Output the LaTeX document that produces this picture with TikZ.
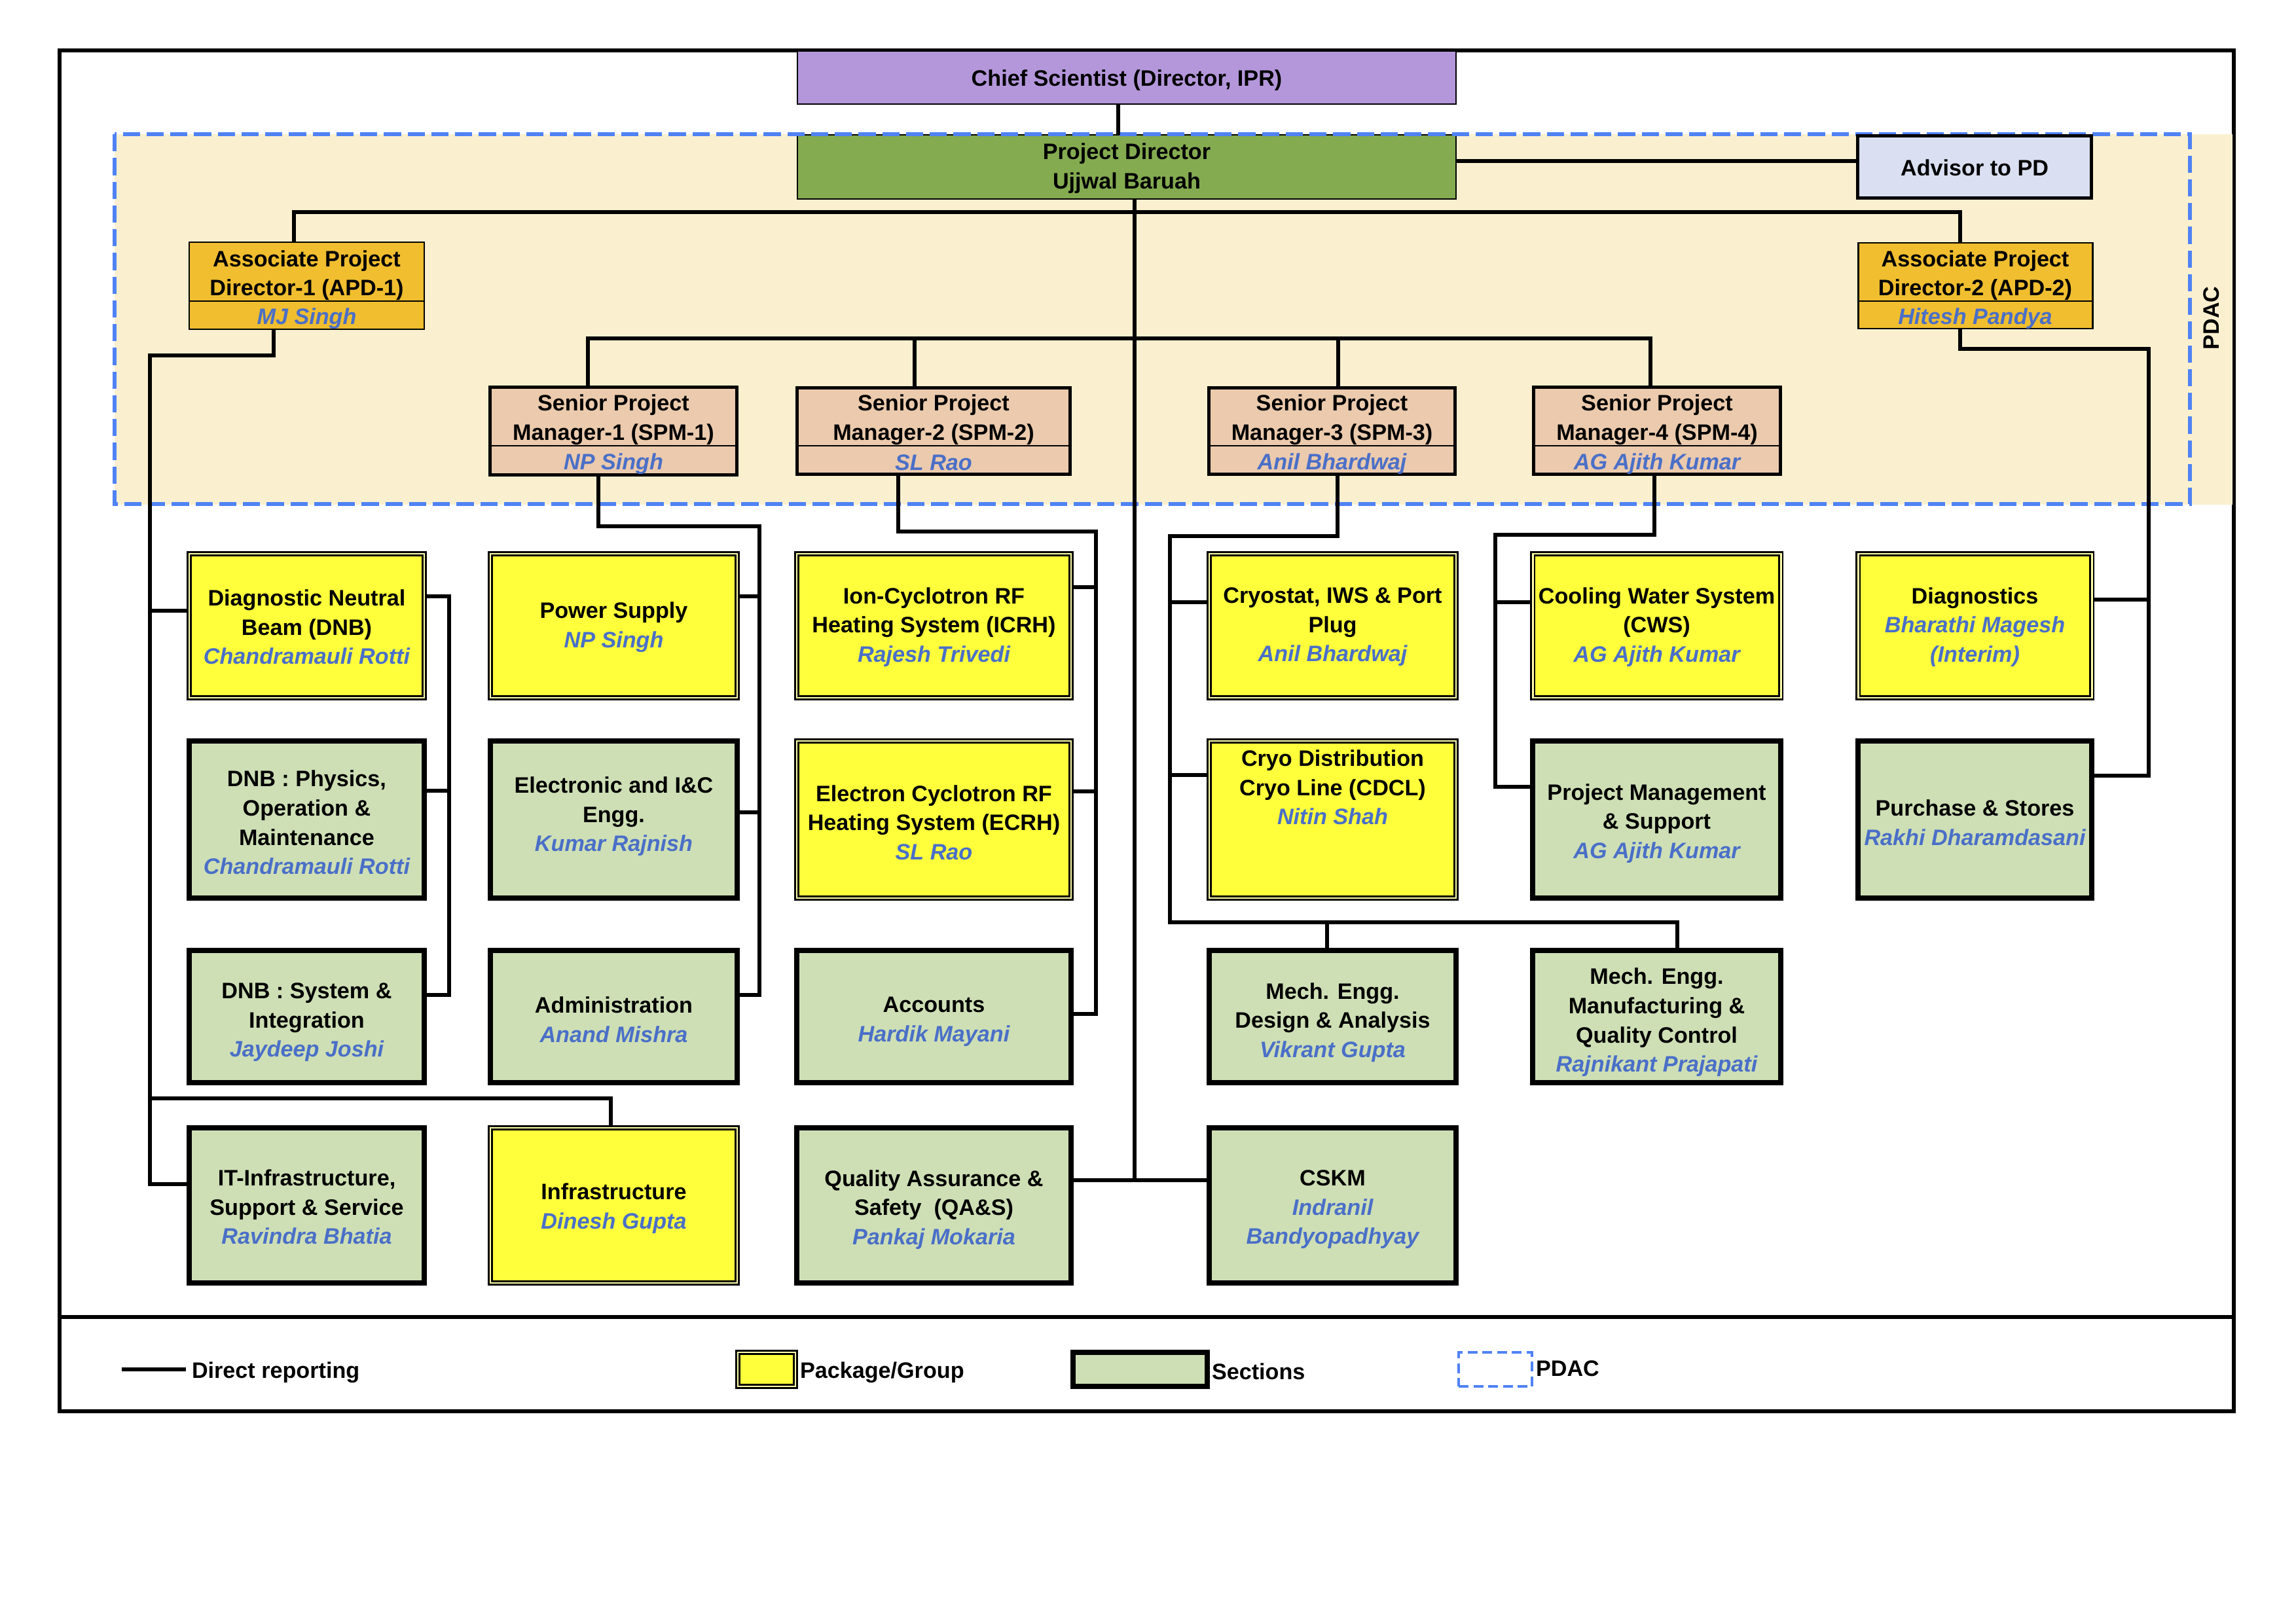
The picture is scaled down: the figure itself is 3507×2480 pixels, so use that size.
\documentclass[tikz,border=0pt]{standalone}
\usepackage{fontspec}
\setmainfont{Liberation Sans}
\definecolor{chiefc}{HTML}{B497DB}
\definecolor{pdc}{HTML}{84AB50}
\definecolor{advc}{HTML}{DAE0F1}
\definecolor{apdc}{HTML}{F0BE2F}
\definecolor{spmc}{HTML}{EBCAAD}
\definecolor{pkgc}{HTML}{FFFF3C}
\definecolor{pkggap}{HTML}{FFFFA8}
\definecolor{secc}{HTML}{CEDFB5}
\definecolor{pdacfill}{HTML}{FAF0CF}
\definecolor{dashc}{HTML}{4F82F5}
\definecolor{namec}{HTML}{4A6FC8}
\pgfdeclarelayer{back}
\pgfdeclarelayer{conns}
\pgfsetlayers{back,conns,main}
\newcommand\nm[1]{{\color{namec}\itshape #1}}
% name, style, x1, y1, x2, y2, inset, text, text centre y
\newcommand\orgbox[9]{\node[#2,minimum width={(#5-#3-2*#7)*0.24pt},minimum height={(#6-#4-2*#7)*0.24pt}] (#1) at ({(#3+#5)/2},{(#4+#6)/2}) {};
  \node (#1t) at ({(#3+#5)/2},#9) {#8};}
\tikzset{
  every node/.append style={font=\bfseries\fontsize{8.2}{10.7}\selectfont, align=center, inner sep=0pt, outer sep=0pt},
  orgrect/.style={draw, rectangle, inner sep=0pt, outer sep=0pt},
  thinbox/.style={orgrect, line width=0.55pt},
  pkg/.style={orgrect, fill=pkgc, line width=0.6pt, double=pkggap, double distance=0.7pt},
  sec/.style={orgrect, fill=secc, line width=1.9pt},
  spm/.style={orgrect, fill=spmc, line width=1.2pt},
  apd/.style={orgrect, fill=apdc, line width=0.7pt},
  adv/.style={orgrect, fill=advc, line width=1.2pt},
  conn/.style={line width=1.35pt},
  divline/.style={line width=0.55pt},
  pdacline/.style={draw=dashc, line width=1.25pt, dash pattern=on 6.3pt off 2.4pt},
}
\begin{document}
\begin{tikzpicture}[x=0.24pt,y=-0.24pt]
\useasboundingbox (0,0) rectangle (3507,2480);
\begin{pgfonlayer}{back}
% frame
\draw[line width=1.45pt] (91,77) rectangle (3412,2156);
\draw[line width=1.5pt] (91,2012) -- (3412,2012);
% PDAC region
\fill[pdacfill] (175,205) rectangle (3410,771);
% top boxes
\orgbox{chief}{thinbox,fill=chiefc}{1217}{77}{2225}{160}{1}{Chief Scientist (Director, IPR)}{123}
\orgbox{pd}{thinbox,fill=pdc}{1217}{205}{2225}{305}{1}{Project Director\\Ujjwal Baruah}{257}
\draw[pdacline] (175,205) rectangle (3345,770);
\node[rotate=90] (pdac) at (3378,486) {PDAC};
\end{pgfonlayer}
% ---- boxes ----
\orgbox{adv}{adv}{2835}{205}{3197}{305}{2.5}{Advisor to PD}{256}
\orgbox{apd1}{apd}{288}{369}{649}{504}{1}{}{436}
\draw[divline] (apd1.west |- 0,460) -- (apd1.east |- 0,460);
\node (apd1ti) at (468.5,420.5) {Associate Project\\Director-1 (APD-1)};
\node (apd1nm) at (468.5,486.5) {\nm{MJ Singh}};
\orgbox{apd2}{apd}{2837}{370}{3197}{503}{1}{}{436}
\draw[divline] (apd2.west |- 0,460) -- (apd2.east |- 0,460);
\node (apd2ti) at (3017,420.5) {Associate Project\\Director-2 (APD-2)};
\node (apd2nm) at (3017,486.5) {\nm{Hitesh Pandya}};
\orgbox{spm1}{spm}{746}{589}{1128}{728}{2.5}{}{658}
\draw[divline] (spm1.west |- 0,681) -- (spm1.east |- 0,681);
\node (spm1ti) at (937,641.5) {Senior Project\\Manager-1 (SPM-1)};
\node (spm1nm) at (937,708.5) {\nm{NP Singh}};
\orgbox{spm2}{spm}{1215}{590}{1637}{727}{2.5}{}{658}
\draw[divline] (spm2.west |- 0,681) -- (spm2.east |- 0,681);
\node (spm2ti) at (1426,641.5) {Senior Project\\Manager-2 (SPM-2)};
\node (spm2nm) at (1426,707) {\nm{SL Rao}};
\orgbox{spm3}{spm}{1844}{590}{2225}{727}{2.5}{}{658}
\draw[divline] (spm3.west |- 0,681) -- (spm3.east |- 0,681);
\node (spm3ti) at (2034.5,641.5) {Senior Project\\Manager-3 (SPM-3)};
\node (spm3nm) at (2034.5,708.5) {\nm{Anil Bhardwaj}};
\orgbox{spm4}{spm}{2340}{589}{2722}{727}{2.5}{}{658}
\draw[divline] (spm4.west |- 0,681) -- (spm4.east |- 0,681);
\node (spm4ti) at (2531,641.5) {Senior Project\\Manager-4 (SPM-4)};
\node (spm4nm) at (2531,708.5) {\nm{AG Ajith Kumar}};
% row 1
\orgbox{dnb}{pkg}{285}{842}{652}{1070}{4}{Diagnostic Neutral\\Beam (DNB)\\\nm{Chandramauli Rotti}}{958}
\orgbox{ps}{pkg}{745}{842}{1130}{1070}{4}{Power Supply\\\nm{NP Singh}}{958}
\orgbox{icrh}{pkg}{1213}{842}{1640}{1070}{4}{Ion-Cyclotron RF\\Heating System (ICRH)\\\nm{Rajesh Trivedi}}{958}
\orgbox{cryo}{pkg}{1843}{842}{2228}{1070}{4}{Cryostat, IWS \& Port\\Plug\\\nm{Anil Bhardwaj}}{958}
\orgbox{cws}{pkg}{2337}{842}{2724}{1070}{4}{Cooling Water System\\(CWS)\\\nm{AG Ajith Kumar}}{958}
\orgbox{diag}{pkg}{2834}{842}{3199}{1070}{4}{Diagnostics\\\nm{Bharathi Magesh}\\\nm{(Interim)}}{958}
% row 2
\orgbox{dnbphy}{sec}{285}{1128}{652}{1376}{4}{DNB : Physics,\\Operation \&\\Maintenance\\\nm{Chandramauli Rotti}}{1256.5}
\orgbox{elec}{sec}{745}{1128}{1130}{1376}{4}{Electronic and I\&C\\Engg.\\\nm{Kumar Rajnish}}{1247.5}
\orgbox{ecrh}{pkg}{1213}{1128}{1640}{1376}{4}{Electron Cyclotron RF\\Heating System (ECRH)\\\nm{SL Rao}}{1256.5}
\orgbox{cdcl}{pkg}{1843}{1128}{2228}{1376}{4}{Cryo Distribution\\Cryo Line (CDCL)\\\nm{Nitin Shah}}{1203}
\orgbox{pms}{sec}{2337}{1128}{2724}{1376}{4}{Project Management\\\& Support\\\nm{AG Ajith Kumar}}{1258}
\orgbox{purch}{sec}{2834}{1128}{3199}{1376}{4}{Purchase \& Stores\\\nm{Rakhi Dharamdasani}}{1256.5}
% row 3
\orgbox{dnbsys}{sec}{285}{1448}{652}{1658}{4}{DNB : System \&\\Integration\\\nm{Jaydeep Joshi}}{1562}
\orgbox{admin}{sec}{745}{1448}{1130}{1658}{4}{Administration\\\nm{Anand Mishra}}{1557.5}
\orgbox{acc}{sec}{1213}{1448}{1640}{1658}{4}{Accounts\\\nm{Hardik Mayani}}{1561}
\orgbox{mechd}{sec}{1843}{1448}{2228}{1658}{4}{Mech. Engg.\\Design \& Analysis\\\nm{Vikrant Gupta}}{1562}
\orgbox{mechm}{sec}{2337}{1448}{2724}{1658}{4}{Mech. Engg.\\Manufacturing \&\\Quality Control\\\nm{Rajnikant Prajapati}}{1562}
% row 4
\orgbox{itinf}{sec}{285}{1719}{652}{1964}{4}{IT-Infrastructure,\\Support \& Service\\\nm{Ravindra Bhatia}}{1844}
\orgbox{infra}{pkg}{745}{1719}{1130}{1964}{4}{Infrastructure\\\nm{Dinesh Gupta}}{1846}
\orgbox{qas}{sec}{1213}{1719}{1640}{1964}{4}{Quality Assurance \&\\Safety\ \ (QA\&S)\\\nm{Pankaj Mokaria}}{1848}
\orgbox{cskm}{sec}{1843}{1719}{2228}{1964}{4}{CSKM\\\nm{Indranil}\\\nm{Bandyopadhyay}}{1848}
% ---- named junctions ----
\coordinate (cl) at (1708,0);
\coordinate (pdv) at (1733,1803);
\coordinate (advj) at (0,246);
\coordinate (h1l) at (449,324); \coordinate (h1r) at (2994,324);
\coordinate (s1) at (898,517); \coordinate (s2) at (1397,517);
\coordinate (s3) at (2044,517); \coordinate (s4) at (2521,517);
\coordinate (a1a) at (418,543); \coordinate (a1b) at (229,543); \coordinate (a1c) at (229,1809);
\coordinate (a1d) at (229,933); \coordinate (a1e) at (229,1678); \coordinate (a1f) at (933,1678);
\coordinate (d1) at (686,911); \coordinate (d2) at (686,1520); \coordinate (d3) at (686,1208);
\coordinate (p1a) at (914,804); \coordinate (p1b) at (1160,804); \coordinate (p1c) at (1160,1520);
\coordinate (p1d) at (1160,911); \coordinate (p1e) at (1160,1241);
\coordinate (p2a) at (1372,812); \coordinate (p2b) at (1674,812); \coordinate (p2c) at (1674,1549);
\coordinate (p2d) at (1674,897); \coordinate (p2e) at (1674,1209);
\coordinate (p3a) at (2043,819); \coordinate (p3b) at (1787,819); \coordinate (p3c) at (1787,1409);
\coordinate (p3d) at (2562,1409); \coordinate (p3e) at (1787,920); \coordinate (p3f) at (1787,1184);
\coordinate (p3g) at (2027,1409);
\coordinate (p4a) at (2527,817); \coordinate (p4b) at (2284,817); \coordinate (p4c) at (2284,1202);
\coordinate (p4d) at (2284,920);
\coordinate (a2a) at (2994,533); \coordinate (a2b) at (3282,533); \coordinate (a2c) at (3282,1185);
\coordinate (a2d) at (3282,916);
% ---- connectors ----
\begin{pgfonlayer}{conns}
\draw[conn] (chief.south -| cl) -- (pd.north -| cl);
\draw[conn] (pd.east |- advj) -- (adv.west |- advj);
\draw[conn] (pd.south -| pdv) -- (pdv);
\draw[conn] (qas.east |- pdv) -- (cskm.west |- pdv);
\draw[conn] (apd1.north -| h1l) -- (h1l) -- (h1r) -- (apd2.north -| h1r);
\draw[conn] (spm1.north -| s1) -- (s1) -- (s4) -- (spm4.north -| s4);
\draw[conn] (spm2.north -| s2) -- (s2);
\draw[conn] (spm3.north -| s3) -- (s3);
\draw[conn] (apd1.south -| a1a) -- (a1a) -- (a1b) -- (a1c) -- (itinf.west |- a1c);
\draw[conn] (a1d) -- (dnb.west |- a1d);
\draw[conn] (a1e) -- (a1f) -- (infra.north -| a1f);
\draw[conn] (dnb.east |- d1) -- (d1) -- (d2) -- (dnbsys.east |- d2);
\draw[conn] (dnbphy.east |- d3) -- (d3);
\draw[conn] (spm1.south -| p1a) -- (p1a) -- (p1b) -- (p1c) -- (admin.east |- p1c);
\draw[conn] (ps.east |- p1d) -- (p1d);
\draw[conn] (elec.east |- p1e) -- (p1e);
\draw[conn] (spm2.south -| p2a) -- (p2a) -- (p2b) -- (p2c) -- (acc.east |- p2c);
\draw[conn] (icrh.east |- p2d) -- (p2d);
\draw[conn] (ecrh.east |- p2e) -- (p2e);
\draw[conn] (spm3.south -| p3a) -- (p3a) -- (p3b) -- (p3c) -- (p3d) -- (mechm.north -| p3d);
\draw[conn] (p3e) -- (cryo.west |- p3e);
\draw[conn] (p3f) -- (cdcl.west |- p3f);
\draw[conn] (p3g) -- (mechd.north -| p3g);
\draw[conn] (spm4.south -| p4a) -- (p4a) -- (p4b) -- (p4c) -- (pms.west |- p4c);
\draw[conn] (p4d) -- (cws.west |- p4d);
\draw[conn] (apd2.south -| a2a) -- (a2a) -- (a2b) -- (a2c) -- (purch.east |- a2c);
\draw[conn] (diag.east |- a2d) -- (a2d);
\end{pgfonlayer}
% ---- legend ----
\coordinate (lga) at (186,2092); \coordinate (lgb) at (284,2092);
\draw[conn] (lga) -- (lgb);
\node[anchor=west] (lgt1) at (293,2097) {Direct reporting};
\orgbox{lgpkg}{pkg}{1123}{2062}{1219}{2122}{4}{}{2092}
\node[anchor=west] (lgt2) at (1222,2097) {Package/Group};
\orgbox{lgsec}{sec}{1635}{2062}{1848}{2122}{4}{}{2092}
\node[anchor=west] (lgt3) at (1851,2095) {Sections};
\orgbox{lgpdac}{orgrect,draw=dashc,line width=0.9pt,dash pattern=on 3.6pt off 1.8pt}{2226}{2064}{2342}{2120}{2}{}{2092}
\node[anchor=west] (lgt4) at (2346,2091) {PDAC};
\end{tikzpicture}
\end{document}
